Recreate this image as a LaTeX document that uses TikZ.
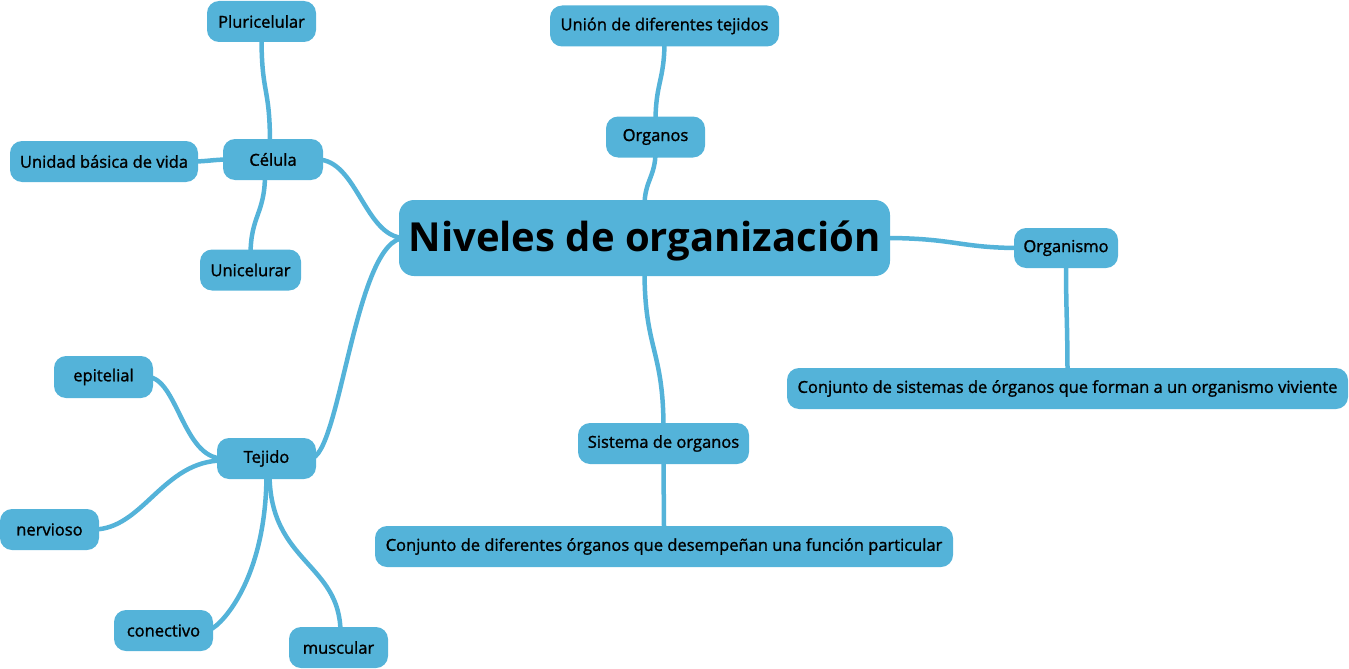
\documentclass[tikz,border=0pt]{standalone}
\usepackage{fontspec}
\setmainfont{Open Sans}
\newfontfamily\lab{Open Sans}[FakeBold=1.3]
\newfontfamily\bigf{Open Sans Bold}
\pgfdeclarelayer{bg}
\pgfsetlayers{bg,main}
\definecolor{nodeblue}{RGB}{84,179,217}
\tikzset{
  x=1pt,y=-1pt,
  topic/.style={fill=nodeblue,rounded corners=12pt,minimum height=41pt,inner sep=0pt,font=\lab\fontsize{16.5}{20}\selectfont,text=black},
  maintopic/.style={fill=nodeblue,rounded corners=15pt,minimum height=76pt,minimum width=491pt,inner sep=0pt,text depth=3pt,font=\bigf\fontsize{40}{48}\selectfont,text=black},
  link/.style={draw=nodeblue,line width=4.5pt,line cap=round}
}
\begin{document}
\begin{tikzpicture}
\useasboundingbox (0,0) rectangle (1349,669);
\node[maintopic] (main) at (644.5,238) {Niveles de organización};
\node[topic,minimum width=109pt] (pluri) at (261.5,21.5) {Pluricelular};
\node[topic,minimum width=229pt] (union) at (664.5,26) {Unión de diferentes tejidos};
\node[topic,minimum width=100pt] (celula) at (273,159.5) {Célula};
\node[topic,minimum width=188pt] (unidad) at (104,161.5) {Unidad básica de vida};
\node[topic,minimum width=99pt] (organos) at (655.5,137) {Organos};
\node[topic,minimum width=104pt,minimum height=40pt] (organismo) at (1066,248) {Organismo};
\node[topic,minimum width=101pt] (unicel) at (250.5,270) {Unicelurar};
\node[topic,minimum width=561pt] (conjsis) at (1067.5,388.5) {Conjunto de sistemas de órganos que forman a un organismo viviente};
\node[topic,minimum width=99pt,minimum height=42pt] (epit) at (103.5,377) {epitelial};
\node[topic,minimum width=99pt] (tejido) at (266.5,458.5) {Tejido};
\node[topic,minimum width=171pt] (sistema) at (663.5,443.5) {Sistema de organos};
\node[topic,minimum width=99pt] (nerv) at (49.5,529.5) {nervioso};
\node[topic,minimum width=578pt] (conjdif) at (664,546.5) {Conjunto de diferentes órganos que desempeñan una función particular};
\node[topic,minimum width=99pt] (conec) at (163.5,630.5) {conectivo};
\node[topic,minimum width=99pt] (musc) at (338.5,647.5) {muscular};
\begin{pgfonlayer}{bg}
\draw[link] ([xshift=6pt]main.west) .. controls +(-40,0) and +(40,0) .. ([xshift=-6pt]celula.east);
\draw[link] ([xshift=6pt]main.west) .. controls +(-50,0) and +(30,0) .. ([xshift=-6pt]tejido.east);
\draw[link] ([yshift=-6pt]main.north) .. controls +(0,-25) and +(0,25) .. ([yshift=6pt]organos.south);
\draw[link] ([yshift=-6pt]organos.north) .. controls +(0,-40) and +(0,40) .. ([yshift=6pt]union.south);
\draw[link] ([yshift=6pt]main.south) .. controls +(0,80) and +(0,-80) .. ([yshift=-6pt]sistema.north);
\draw[link] ([yshift=6pt]sistema.south) .. controls +(0,30) and +(0,-30) .. ([yshift=-6pt]conjdif.north);
\draw[link] ([xshift=-6pt]main.east) .. controls +(70,0) and +(-60,0) .. ([xshift=6pt]organismo.west);
\draw[link] ([yshift=6pt]organismo.south) .. controls +(0,50) and +(0,-50) .. ([yshift=-6pt]conjsis.north);
\draw[link] ([xshift=-3pt,yshift=-6pt]celula.north) .. controls +(0,-60) and +(0,60) .. ([yshift=6pt]pluri.south);
\draw[link] ([xshift=6pt]celula.west) .. controls +(-15,0) and +(15,0) .. ([xshift=-6pt]unidad.east);
\draw[link] ([xshift=-8pt,yshift=6pt]celula.south) .. controls +(0,40) and +(0,-40) .. ([yshift=-6pt]unicel.north);
\draw[link] ([xshift=6pt]tejido.west) .. controls +(-40,0) and +(30,0) .. ([xshift=-6pt]epit.east);
\draw[link] ([xshift=6pt,yshift=-2pt]tejido.west) .. controls +(-60,0) and +(50,0) .. ([xshift=-6pt]nerv.east);
\draw[link] ([yshift=6pt]tejido.south) .. controls +(0,110) and +(10,0) .. ([xshift=-6pt]conec.east);
\draw[link] ([xshift=3pt,yshift=6pt]tejido.south) .. controls +(0,90) and +(0,-70) .. ([xshift=2pt,yshift=-6pt]musc.north);
\end{pgfonlayer}
\end{tikzpicture}
\end{document}
